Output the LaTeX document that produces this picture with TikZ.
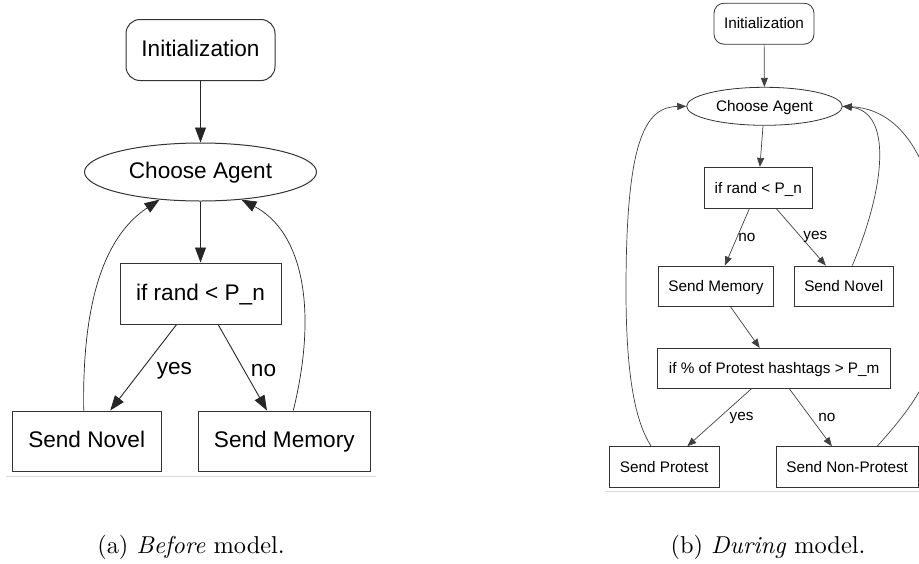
\documentclass[tikz,border=0pt]{standalone}
\usepackage{fontspec}
\newfontfamily\dotfont{Liberation Sans}
\usetikzlibrary{positioning,shapes.geometric,arrows.meta}

\begin{document}
\begin{tikzpicture}[
  x = 1pt, y = -1pt,
  every node/.style = {inner sep = 0pt},
  bigfont/.style = {font = \dotfont\fontsize{22.6}{27}\selectfont},
  smallfont/.style = {font = \dotfont\fontsize{15.3}{18}\selectfont},
  boxA/.style = {bigfont, draw = black!80, line width = 1pt, text height = 16.3pt, text depth = 2.6pt},
  roundA/.style = {boxA, rounded corners = 14pt},
  agentA/.style = {boxA, ellipse},
  arrA/.style = {draw = black!85, line width = 0.9pt, -{Triangle[length = 15pt, width = 11pt]}},
  boxB/.style = {smallfont, draw = black!80, line width = 0.8pt, text height = 11pt, text depth = 0.6pt},
  roundB/.style = {boxB, rounded corners = 10pt},
  agentB/.style = {boxB, ellipse},
  arrB/.style = {draw = black!75, line width = 0.7pt, -{Triangle[length = 9pt, width = 7pt]}},
  rule/.style = {draw = black!15, line width = 1.2pt},
  caption/.style = {scale = 2.44},
  ]
  \useasboundingbox (0, 0) rectangle (919, 563);

  \node[roundA, minimum width = 149pt, minimum height = 61pt] (initL) at (200.5, 50) {Initialization};
  \node[agentA, minimum width = 232pt, minimum height = 58pt] (chooseL) at (200.5, 172) {Choose Agent};
  \node[boxA, minimum width = 161pt, minimum height = 61pt] (randL) at (200.5, 293.5) {if rand < P\_n};
  \node[boxA, minimum width = 149pt, minimum height = 60pt] (novelL) at (86.7, 441) {Send Novel};
  \node[boxA, minimum width = 172pt, minimum height = 60pt] (memoryL) at (284.3, 441) {Send Memory};

  \draw[arrA] (initL) -- (chooseL);
  \draw[arrA] (chooseL) -- (randL);
  \draw[arrA] (randL) -- node[bigfont, right = 13pt, yshift = -3pt] {yes} (novelL);
  \draw[arrA] (randL) -- node[bigfont, right = 8pt, yshift = -3pt] {no} (memoryL);
  \draw[arrA, line width = 0.7pt] ([xshift = -3pt]novelL.north) .. controls (82, 300) and (105, 236) .. (chooseL.214);
  \draw[arrA, line width = 0.7pt] ([xshift = 9pt]memoryL.north) .. controls (318, 310) and (303, 232) .. (chooseL.326);

  \node[roundB, minimum width = 100pt, minimum height = 41pt] (initR) at (764, 23.7) {Initialization};
  \node[agentB, minimum width = 155.7pt, minimum height = 38pt] (chooseR) at (764.5, 106.3) {Choose Agent};
  \node[boxB, minimum width = 108pt, minimum height = 41pt] (randR) at (758.3, 187.8) {if rand < P\_n};
  \node[boxB, minimum width = 115.3pt, minimum height = 40.7pt] (memoryR) at (716, 286.3) {Send Memory};
  \node[boxB, minimum width = 99pt, minimum height = 40.7pt] (novelR) at (843.8, 286.3) {Send Novel};
  \node[boxB, minimum width = 233pt, minimum height = 40pt] (hashR) at (774.2, 368.3) {if \% of Protest hashtags > P\_m};
  \node[boxB, minimum width = 109.7pt, minimum height = 40.7pt] (protestR) at (664.2, 467) {Send Protest};
  \node[boxB, minimum width = 142.3pt, minimum height = 40.7pt] (nonprotR) at (847.2, 467) {Send Non-Protest};

  \draw[arrB] (initR) -- (chooseR);
  \draw[arrB] (chooseR) -- (randR);
  \draw[arrB] (randR) -- node[smallfont, right = 1pt] {no} (memoryR);
  \draw[arrB] (randR) -- node[smallfont, right = 2pt] {yes} (novelR);
  \draw[arrB] (memoryR) -- (hashR);
  \draw[arrB] (hashR) -- node[smallfont, right = 10pt] {yes} (protestR);
  \draw[arrB] (hashR) -- node[smallfont, right = 7.5pt] {no} (nonprotR);
  \draw[arrB] ([xshift = -13pt]protestR.north) .. controls (634, 420) and (626, 370) .. (626, 290)
    .. controls (626, 140) and (645, 107) .. (chooseR.west);
  \draw[arrB] ([xshift = 8.5pt]novelR.north) .. controls (886, 185) and (892, 112) .. (chooseR.east);
  \draw[arrB] ([xshift = 30pt]nonprotR.north) .. controls (905, 415) and (945, 370) .. (945, 300)
    .. controls (945, 190) and (915, 110) .. (chooseR.east);

  \draw[rule] (6, 476.7) -- (376, 476.7);
  \draw[rule] (605, 491.7) -- (919, 491.7);
  \node[caption] (capL) at (191, 547) {(a) \textit{Before} model.};
  \node[caption] (capR) at (768, 547) {(b) \textit{During} model.};
\end{tikzpicture}
\end{document}
